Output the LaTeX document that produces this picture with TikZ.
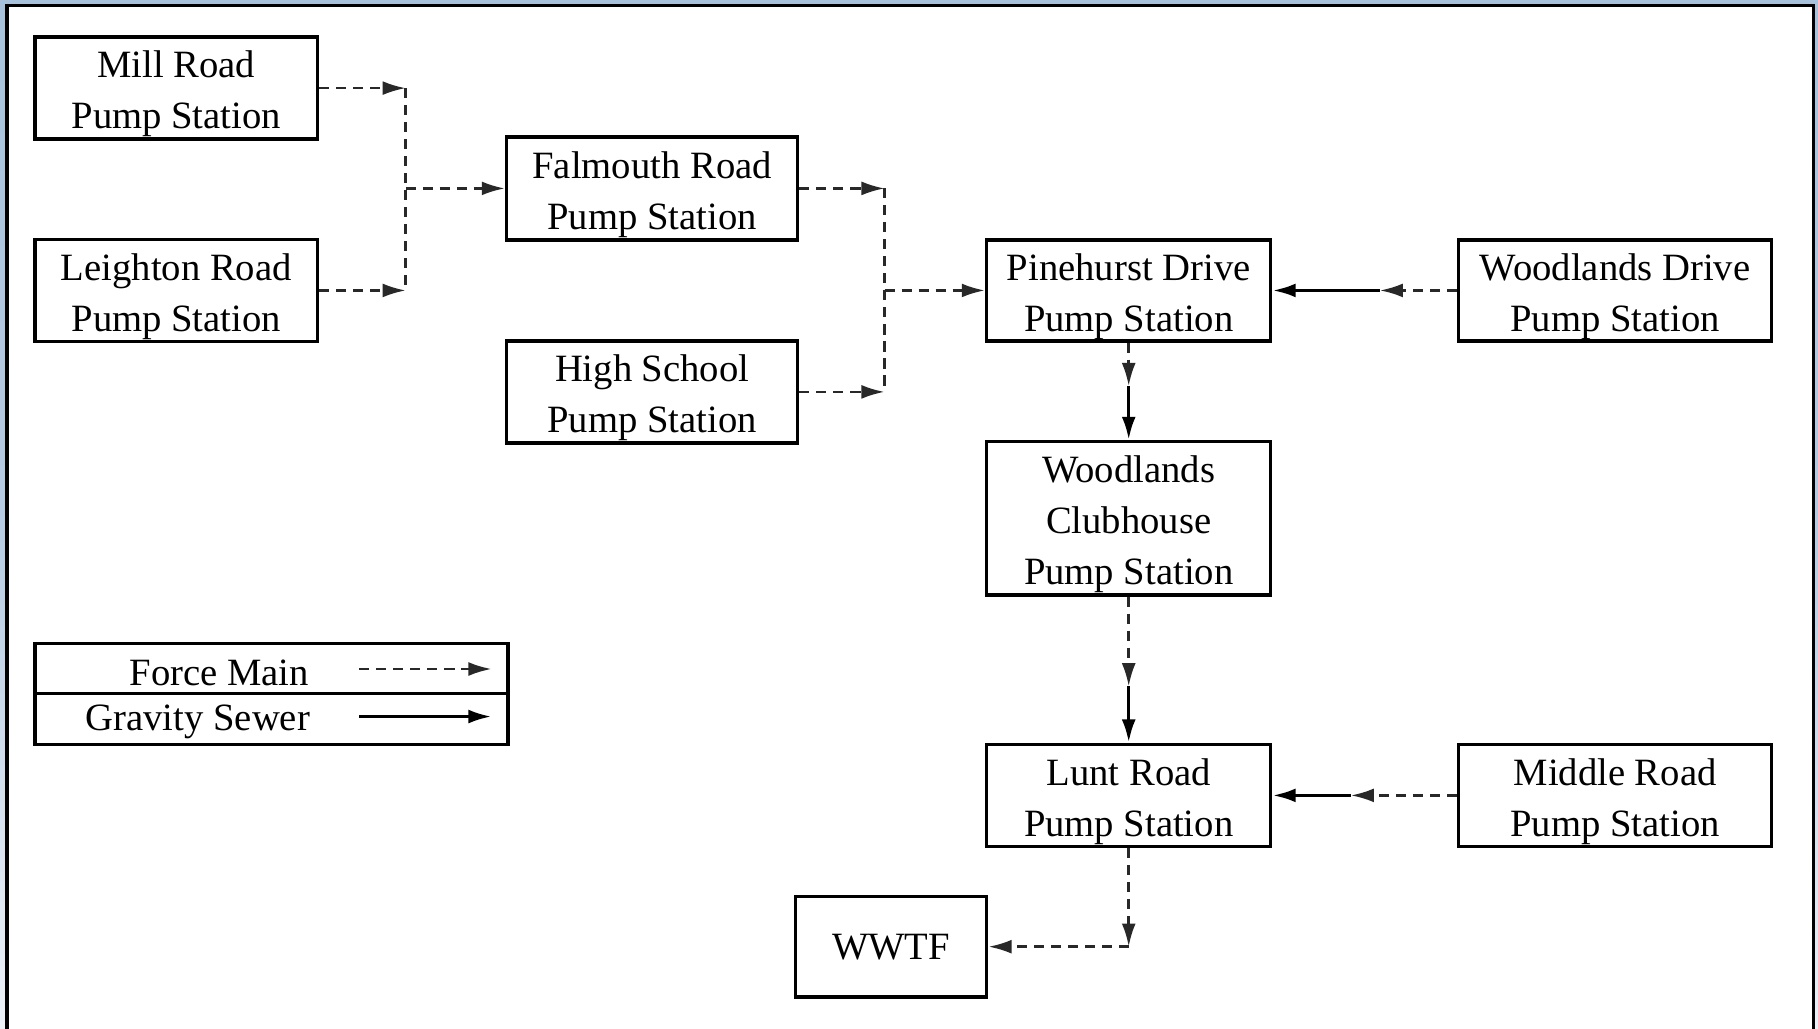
\documentclass[tikz,border=0pt]{standalone}
\usepackage{fontspec}
\setmainfont{Liberation Serif}
\usetikzlibrary{arrows.meta}
\definecolor{bgblue}{RGB}{168,194,220}
\definecolor{bglight}{RGB}{236,241,248}
\definecolor{fmgray}{RGB}{40,40,40}
\newcommand{\topstrut}{\rule{0pt}{10pt}}
\tikzset{
  x=0.3pt, y=-0.3pt,
  station/.style={draw, line width=0.9pt, fill=white, align=center, inner sep=0pt,
    font=\fontsize{10}{13.2}\selectfont, minimum height=26.4pt},
  fm/.style={draw=fmgray, line width=0.7pt, dash pattern=on 2.6pt off 1.8pt},
  gs/.style={draw=black, line width=0.9pt},
  tip/.style={-{Latex[length=6pt,width=3.6pt]}},
  legtext/.style={font=\fontsize{10}{12}\selectfont, inner sep=0pt, anchor=east},
}
\begin{document}
\begin{tikzpicture}
\useasboundingbox (0,0) rectangle (1568,887);
% background and panel
\shade[top color=bgblue, bottom color=bglight, middle color=bgblue!80!bglight] (0,0) rectangle (1568,887);
\fill[white] (6,5) rectangle (1564,890);
\draw[line width=0.8pt] (6,890) -- (6,5) -- (1564,5) -- (1564,890);

% stations
\node[station, minimum width=73.2pt] (mill) at (152,76) {\topstrut Mill Road\\Pump Station};
\node[station, minimum width=73.2pt] (leighton) at (152,250.5) {\topstrut Leighton Road\\Pump Station};
\node[station, minimum width=75.3pt, minimum height=26.7pt] (falmouth) at (562.5,162.5) {\topstrut Falmouth Road\\Pump Station};
\node[station, minimum width=75.3pt] (highschool) at (562.5,338) {\topstrut High School\\Pump Station};
\node[station, minimum width=73.5pt, minimum height=26.1pt] (pinehurst) at (973.5,250.5) {\topstrut Pinehurst Drive\\Pump Station};
\node[station, minimum width=81pt, minimum height=26.1pt] (wdrive) at (1393,250.5) {\topstrut Woodlands Drive\\Pump Station};
\node[station, minimum width=73.5pt, minimum height=39.6pt] (club) at (973.5,447) {\topstrut Woodlands\\Clubhouse\\Pump Station};
\node[station, minimum width=73.5pt] (lunt) at (973.5,686) {\topstrut Lunt Road\\Pump Station};
\node[station, minimum width=81pt] (middle) at (1393,686) {\topstrut Middle Road\\Pump Station};
\node[station, minimum width=49.5pt, minimum height=26.1pt] (wwtf) at (768.5,816.5) {WWTF};

% junction coordinates
\coordinate (busA) at (350,162.5);
\coordinate (busB) at (763,250.5);
\coordinate (wdj) at (1190,250.5);
\coordinate (pcj) at (973.5,333);
\coordinate (clj) at (973.5,592);
\coordinate (mlj) at (1165,686);
\coordinate (lwj) at (973.5,816.5);

% Mill + Leighton -> Falmouth
\draw[fm, tip] (mill.east) -- (mill.east -| busA);
\draw[fm, tip] (leighton.east) -- (leighton.east -| busA);
\draw[fm] (mill.east -| busA) -- (leighton.east -| busA);
\draw[fm, tip] (busA) -- (falmouth.west);

% Falmouth + High School -> Pinehurst
\draw[fm, tip] (falmouth.east) -- (falmouth.east -| busB);
\draw[fm, tip] (highschool.east) -- (highschool.east -| busB);
\draw[fm] (falmouth.east -| busB) -- (highschool.east -| busB);
\draw[fm, tip] (busB) -- (pinehurst.west);

% Woodlands Drive -> Pinehurst
\draw[fm, tip] (wdrive.west) -- (wdj);
\draw[gs, tip] (wdj) -- (pinehurst.east);

% Pinehurst -> Clubhouse
\draw[fm, tip] (pinehurst.south) -- (pcj);
\draw[gs, tip] (pcj) -- (club.north);

% Clubhouse -> Lunt
\draw[fm, tip] (club.south) -- (clj);
\draw[gs, tip] (clj) -- (lunt.north);

% Middle -> Lunt
\draw[fm, tip] (middle.west) -- (mlj);
\draw[gs, tip] (mlj) -- (lunt.east);

% Lunt -> WWTF
\draw[fm, tip] (lunt.south) -- (lwj);
\draw[fm, tip] (lwj) -- (wwtf.east);

% legend
\node[draw, line width=0.9pt, minimum width=122.4pt, minimum height=26.1pt, inner sep=0pt] (legend) at (234,598.5) {};
\draw[line width=0.9pt] (legend.west |- 0,598) -- (legend.east |- 0,598);
\node[legtext] (lfm) at (267,580) {Force Main};
\node[legtext] (lgs) at (268,623) {Gravity Sewer};
\coordinate (lfa) at (310,577);
\coordinate (lfb) at (424,577);
\coordinate (lga) at (310,618);
\coordinate (lgb) at (424,618);
\draw[fm, tip] (lfa) -- (lfb);
\draw[gs, tip] (lga) -- (lgb);
\end{tikzpicture}
\end{document}
